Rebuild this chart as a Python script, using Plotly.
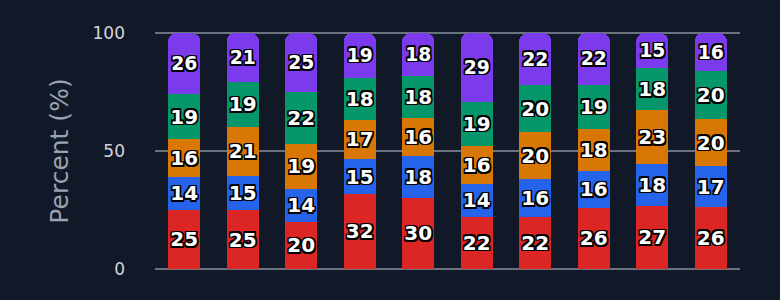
import plotly.graph_objects as go

categories = ["C1", "C2", "C3", "C4", "C5", "C6", "C7", "C8", "C9", "C10"]
series_names = ["S1", "S2", "S3", "S4", "S5"]
s1 = [25, 25, 20, 32, 30, 22, 22, 26, 27, 26]
s2 = [14, 15, 14, 15, 18, 14, 16, 16, 18, 17]
s3 = [16, 21, 19, 17, 16, 16, 20, 18, 23, 20]
s4 = [19, 19, 22, 18, 18, 19, 20, 19, 18, 20]
s5 = [26, 21, 25, 19, 18, 29, 22, 22, 15, 16]
colors = ["#dc2626", "#2563eb", "#d97706", "#059669", "#7c3aed"]
y_ticks = [0, 50, 100]

series = [s1, s2, s3, s4, s5]

outline = ", ".join(f"{dx}px {dy}px 0 #000" for dx, dy in
                    [(-1.5, -1.5), (1.5, -1.5), (-1.5, 1.5), (1.5, 1.5),
                     (0, 1.5), (0, -1.5), (1.5, 0), (-1.5, 0)])

fig = go.Figure()
for name, vals, col in zip(series_names, series, colors):
    fig.add_trace(go.Bar(
        x=categories, y=vals, name=name,
        marker=dict(color=col, line=dict(width=0)),
        text=[str(v) for v in vals],
        textposition="inside",
        insidetextanchor="middle",
        textangle=0,
        constraintext="none",
        textfont=dict(family="DejaVu Sans", size=20, color="white", weight="bold",
                      shadow=outline),
        hoverinfo="skip",
    ))

fig.update_layout(
    barmode="stack",
    barnorm="percent",
    width=780, height=300,
    margin=dict(l=155, r=40, t=32, b=30),
    paper_bgcolor="#111827",
    plot_bgcolor="#111827",
    showlegend=False,
    bargap=0.45,
    barcornerradius=8,
    font=dict(family="DejaVu Sans", color="#d1d5db"),
    xaxis=dict(showticklabels=False, showgrid=False, zeroline=False, showline=False, ticks=""),
    yaxis=dict(
        range=[-0.5, 100.5], tickvals=y_ticks,
        showgrid=True, gridcolor="#6b7280", gridwidth=2,
        zeroline=False, showline=False,
        tickfont=dict(size=17, color="#d1d5db"),
        ticks="", ticklabelstandoff=29,
        title=dict(text="Percent (%)", font=dict(size=25, color="#9ca3af"), standoff=16),
    ),
)

fig.write_html("out.html")
